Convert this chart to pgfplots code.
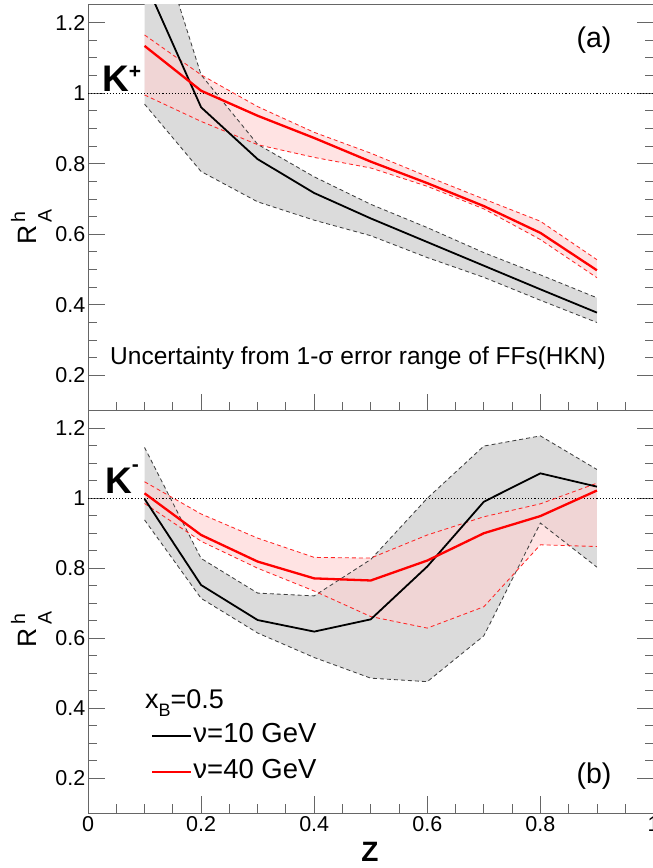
\documentclass[border=0pt]{standalone}
\usepackage{fontspec}
\setmainfont{Liberation Sans}
\usepackage{pgfplots}
\usepackage{pgfplotstable}
\pgfplotsset{compat=1.18}
\usepgfplotslibrary{fillbetween}

% K+ panel: z, black centre/upper/lower (nu=10 GeV), red centre/upper/lower (nu=40 GeV)
\pgfplotstableread{
z   bc    bu    bl    rc    ru    rl
0.1 1.320 1.560 0.969 1.134 1.165 0.995
0.2 0.960 1.052 0.778 1.007 1.052 0.920
0.3 0.813 0.855 0.692 0.936 0.962 0.854
0.4 0.717 0.763 0.640 0.873 0.889 0.818
0.5 0.645 0.685 0.596 0.806 0.830 0.788
0.6 0.578 0.619 0.534 0.745 0.764 0.736
0.7 0.511 0.548 0.478 0.680 0.700 0.672
0.8 0.444 0.485 0.413 0.604 0.637 0.585
0.9 0.378 0.420 0.350 0.498 0.528 0.477
}\tabKp

% K- panel
\pgfplotstableread{
z   bc    bu    bl    rc    ru    rl
0.1 0.998 1.145 0.938 1.014 1.047 0.985
0.2 0.752 0.828 0.714 0.895 0.955 0.877
0.3 0.652 0.729 0.615 0.819 0.886 0.800
0.4 0.619 0.721 0.545 0.771 0.831 0.735
0.5 0.654 0.825 0.486 0.765 0.829 0.662
0.6 0.805 1.000 0.476 0.822 0.895 0.629
0.7 0.990 1.149 0.607 0.900 0.947 0.690
0.8 1.071 1.178 0.929 0.949 0.984 0.867
0.9 1.033 1.082 0.803 1.022 1.043 0.862
}\tabKm

\definecolor{framegray}{gray}{0.40}

\pgfplotsset{
  panel/.style={
    scale only axis, width=565.5pt,
    xmin=0, xmax=1, ymin=0.1, ymax=1.25,
    xtick={0,0.2,0.4,0.6,0.8,1},
    ytick={0.2,0.4,0.6,0.8,1,1.2},
    minor x tick num=3, minor y tick num=3,
    tick align=inside, xtick pos=left, ytick pos=both,
    major tick length=17pt, minor tick length=9pt,
    axis line style={framegray, line width=1pt},
    every tick/.style={framegray, line width=0.9pt},
    tick label style={font=\fontsize{21.5}{24}\selectfont, black},
    yticklabel style={inner sep=2.5pt},
    xticklabel style={inner sep=3pt},
    /pgf/number format/assume math mode=true,
    clip=true,
  },
  bandB/.style={draw=black!75, dash pattern=on 4pt off 3pt, line width=0.85pt, forget plot},
  bandR/.style={draw=red!85, dash pattern=on 4pt off 3pt, line width=0.85pt, forget plot},
}

\newcommand\RAh{{\fontsize{26.5}{28}\selectfont R}\rlap{\fontsize{19.5}{20}\selectfont\,\raisebox{11.5pt}{h}}{\fontsize{19.5}{20}\selectfont\,\raisebox{-15pt}{A}}}

\begin{document}
\begin{tikzpicture}

% ---------------- top panel (K+) ----------------
\begin{axis}[panel, height=405.7pt, at={(88pt,457.3pt)}, anchor=south west,
  xticklabels={}]
  \addplot[forget plot, black, line width=1.1pt, dash pattern=on 1.1pt off 2pt] coordinates {(0,1) (1,1)};
  \addplot[bandB, name path=kpbu] table[x=z,y=bu]{\tabKp};
  \addplot[bandB, name path=kpbl] table[x=z,y=bl]{\tabKp};
  \addplot[forget plot, fill=black!14, draw=none] fill between[of=kpbu and kpbl];
  \addplot[bandR, name path=kpru] table[x=z,y=ru]{\tabKp};
  \addplot[bandR, name path=kprl] table[x=z,y=rl]{\tabKp};
  \addplot[forget plot, fill=red!18, fill opacity=0.6, draw=none] fill between[of=kpru and kprl];
  \addplot[black, line width=1.8pt] table[x=z,y=bc]{\tabKp};
  \addplot[red, line width=2.3pt] table[x=z,y=rc]{\tabKp};
\end{axis}

% ---------------- bottom panel (K-) ----------------
\begin{axis}[panel, height=402.6pt, at={(88pt,54.7pt)}, anchor=south west,
  legend style={at={(axis description cs:0.106,0.233)}, anchor=north west,
    draw=none, fill=none, font=\fontsize{27.5}{30}\selectfont,
    row sep=8pt, column sep=0pt,
    nodes={inner sep=1pt, text height=20pt, text depth=6pt}},
  legend cell align=left,
  legend image code/.code={\draw[#1] (0pt,0pt) -- (39pt,0pt);}]
  \addplot[forget plot, black, line width=1.1pt, dash pattern=on 1.1pt off 2pt] coordinates {(0,1) (1,1)};
  \addplot[bandB, name path=kmbu] table[x=z,y=bu]{\tabKm};
  \addplot[bandB, name path=kmbl] table[x=z,y=bl]{\tabKm};
  \addplot[forget plot, fill=black!14, draw=none] fill between[of=kmbu and kmbl];
  \addplot[bandR, name path=kmru] table[x=z,y=ru]{\tabKm};
  \addplot[bandR, name path=kmrl] table[x=z,y=rl]{\tabKm};
  \addplot[forget plot, fill=red!18, fill opacity=0.6, draw=none] fill between[of=kmru and kmrl];
  \addplot[black, line width=1.8pt] table[x=z,y=bc]{\tabKm};
  \addlegendentry{ν=10 GeV}
  \addplot[red, line width=2.3pt] table[x=z,y=rc]{\tabKm};
  \addlegendentry{ν=40 GeV}
\end{axis}

% ---------------- labels ----------------
\node[rotate=90, anchor=base west, inner sep=0pt] at (36.7pt,623pt) {\RAh};
\node[rotate=90, anchor=base west, inner sep=0pt] at (36.7pt,220.5pt) {\RAh};

\node[anchor=base west, inner sep=0pt] at (102pt,776.3pt)
  {\fontsize{37}{40}\selectfont\bfseries K\raisebox{13pt}{\fontsize{21}{24}\selectfont +}};
\node[anchor=base west, inner sep=0pt] at (105pt,374.7pt)
  {\fontsize{37}{40}\selectfont\bfseries K\raisebox{22pt}{\fontsize{21}{24}\selectfont -}};

\node[anchor=base west, inner sep=0pt] at (110pt,503pt)
  {\fontsize{24.5}{27}\selectfont Uncertainty from 1-σ error range of FFs(HKN)};

\node[anchor=center, inner sep=0pt] at (594pt,828pt) {\fontsize{28.5}{30}\selectfont (a)};
\node[anchor=center, inner sep=0pt] at (594pt,92pt) {\fontsize{28.5}{30}\selectfont (b)};

\node[anchor=base west, inner sep=0pt] at (145pt,159.7pt)
  {\fontsize{27}{30}\selectfont x\raisebox{-8.4pt}{\fontsize{18}{20}\selectfont B}=0.5};

\node[anchor=base, inner sep=0pt] at (370pt,6.3pt) {\fontsize{28}{30}\selectfont\bfseries Z};

\pgfresetboundingbox
\path[use as bounding box] (0pt,0pt) rectangle (653pt,868pt);
\end{tikzpicture}
\end{document}
